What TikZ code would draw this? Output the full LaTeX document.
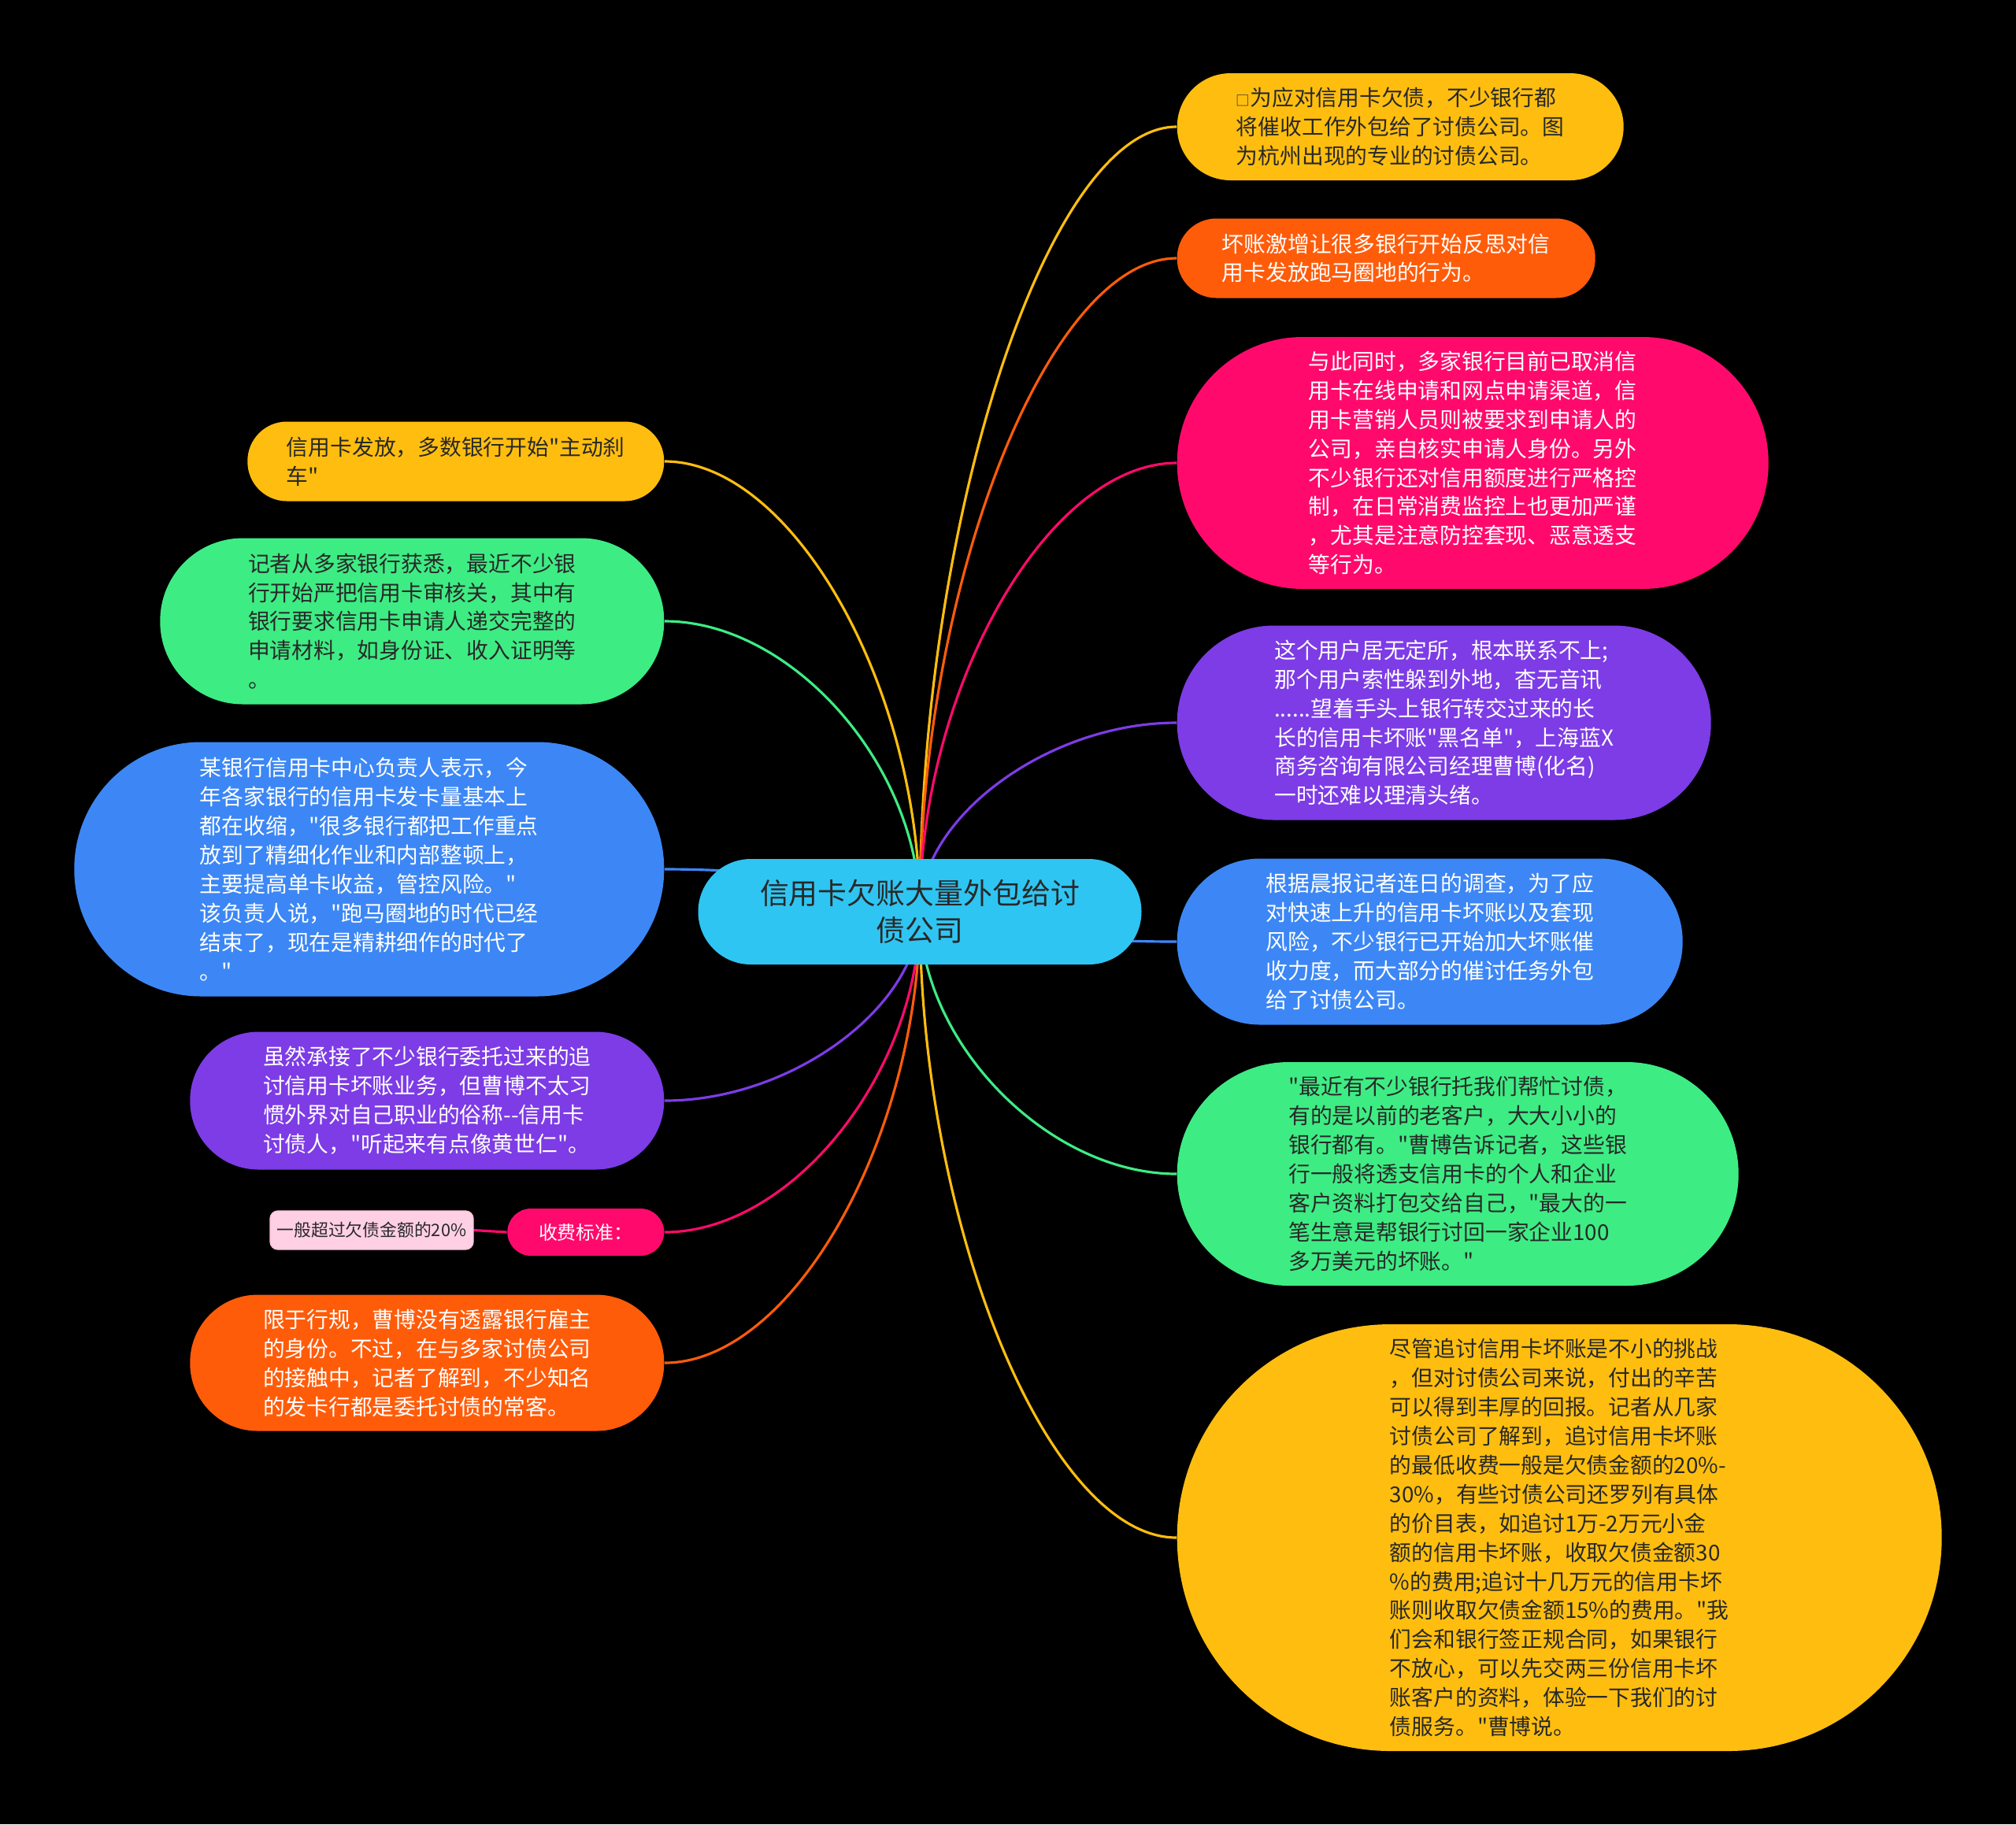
\documentclass[tikz,border=0pt]{standalone}
\usepackage{fontspec}
\setmainfont{Noto Sans CJK SC}[Ligatures=TeXOff]
\usepackage{tikz}
\usetikzlibrary{calc, backgrounds}
\definecolor{mapyellow}{RGB}{255,190,15}
\definecolor{maporange}{RGB}{255,92,10}
\definecolor{mappink}{RGB}{255,10,108}
\definecolor{mappurple}{RGB}{125,60,230}
\definecolor{mapblue}{RGB}{60,135,245}
\definecolor{mapgreen}{RGB}{62,236,132}
\definecolor{mapcyan}{RGB}{47,197,242}
\definecolor{maplight}{RGB}{255,208,228}
\definecolor{mapink}{RGB}{40,40,40}
\newcommand\bodyfont{\fontsize{7.9pt}{10.5pt}\selectfont}
\tikzset{
  pill/.style 2 args = {fill=#1, rounded corners=#2, inner sep=0pt,
                        align=left, text=white, font=\bodyfont},
  dark/.style        = {text=mapink},
  branch/.style      = {draw=#1, line width=0.9pt},
}

\begin{document}
\begin{tikzpicture}[
    rside/.style={anchor=west},
    lside/.style={anchor=east}
]
\useasboundingbox (0,0) rectangle (25.6,-23.17);
\begin{scope}[on background layer]
  \fill[black] (0,0) rectangle (25.6,-23.17);
\end{scope}

% centre
\node[pill={mapcyan}{0.67cm}, dark, align=center,
      font=\fontsize{10.5pt}{13.4pt}\selectfont,
      minimum width=5.63cm, minimum height=1.34cm] (root) at (11.68,-11.58)
  {信用卡欠账大量外包给讨\\债公司};

% right side
\node[pill={mapyellow}{0.68cm}, dark, rside, minimum width=5.67cm,
      minimum height=1.36cm] (r1) at (14.94,-1.61)
  {{\fontsize{5pt}{5pt}\selectfont □}为应对信用卡欠债，不少银行都\\
   将催收工作外包给了讨债公司。图\\
   为杭州出现的专业的讨债公司。};
\node[pill={maporange}{0.5cm}, rside, minimum width=5.31cm,
      minimum height=1.01cm] (r2) at (14.94,-3.28)
  {坏账激增让很多银行开始反思对信\\
   用卡发放跑马圈地的行为。};
\node[pill={mappink}{1.6cm}, rside, minimum width=7.51cm,
      minimum height=3.2cm] (r3) at (14.94,-5.88)
  {与此同时，多家银行目前已取消信\\
   用卡在线申请和网点申请渠道，信\\
   用卡营销人员则被要求到申请人的\\
   公司，亲自核实申请人身份。另外\\
   不少银行还对信用额度进行严格控\\
   制，在日常消费监控上也更加严谨\\
   ，尤其是注意防控套现、恶意透支\\
   等行为。};
\node[pill={mappurple}{1.23cm}, rside, minimum width=6.78cm,
      minimum height=2.47cm] (r4) at (14.94,-9.18)
  {这个用户居无定所，根本联系不上;\\
   那个用户索性躲到外地，杳无音讯\\
   ......望着手头上银行转交过来的长\\
   长的信用卡坏账"黑名单"，上海蓝X\\
   商务咨询有限公司经理曹博(化名)\\
   一时还难以理清头绪。};
\node[pill={mapblue}{1.05cm}, rside, minimum width=6.42cm,
      minimum height=2.11cm] (r5) at (14.94,-11.96)
  {根据晨报记者连日的调查，为了应\\
   对快速上升的信用卡坏账以及套现\\
   风险，不少银行已开始加大坏账催\\
   收力度，而大部分的催讨任务外包\\
   给了讨债公司。};
\node[pill={mapgreen}{1.42cm}, dark, rside, minimum width=7.13cm,
      minimum height=2.84cm] (r6) at (14.94,-14.91)
  {"最近有不少银行托我们帮忙讨债，\\
   有的是以前的老客户，大大小小的\\
   银行都有。"曹博告诉记者，这些银\\
   行一般将透支信用卡的个人和企业\\
   客户资料打包交给自己，"最大的一\\
   笔生意是帮银行讨回一家企业100\\
   多万美元的坏账。"};
\node[pill={mapyellow}{2.71cm}, dark, rside, minimum width=9.71cm,
      minimum height=5.42cm] (r7) at (14.94,-19.53)
  {尽管追讨信用卡坏账是不小的挑战\\
   ，但对讨债公司来说，付出的辛苦\\
   可以得到丰厚的回报。记者从几家\\
   讨债公司了解到，追讨信用卡坏账\\
   的最低收费一般是欠债金额的20\%-\\
   30\%，有些讨债公司还罗列有具体\\
   的价目表，如追讨1万-2万元小金\\
   额的信用卡坏账，收取欠债金额30\\
   \%的费用;追讨十几万元的信用卡坏\\
   账则收取欠债金额15\%的费用。"我\\
   们会和银行签正规合同，如果银行\\
   不放心，可以先交两三份信用卡坏\\
   账客户的资料，体验一下我们的讨\\
   债服务。"曹博说。};

% left side
\node[pill={mapyellow}{0.5cm}, dark, lside, minimum width=5.29cm,
      minimum height=1.01cm] (l1) at (8.44,-5.86)
  {信用卡发放，多数银行开始"主动刹\\
   车"};
\node[pill={mapgreen}{1.05cm}, dark, lside, minimum width=6.4cm,
      minimum height=2.11cm] (l2) at (8.44,-7.89)
  {记者从多家银行获悉，最近不少银\\
   行开始严把信用卡审核关，其中有\\
   银行要求信用卡申请人递交完整的\\
   申请材料，如身份证、收入证明等\\
   。};
\node[pill={mapblue}{1.61cm}, lside, minimum width=7.49cm,
      minimum height=3.23cm] (l3) at (8.44,-11.04)
  {某银行信用卡中心负责人表示，今\\
   年各家银行的信用卡发卡量基本上\\
   都在收缩，"很多银行都把工作重点\\
   放到了精细化作业和内部整顿上，\\
   主要提高单卡收益，管控风险。"\\
   该负责人说，"跑马圈地的时代已经\\
   结束了，现在是精耕细作的时代了\\
   。"};
\node[pill={mappurple}{0.87cm}, lside, minimum width=6.02cm,
      minimum height=1.75cm] (l4) at (8.44,-13.98)
  {虽然承接了不少银行委托过来的追\\
   讨信用卡坏账业务，但曹博不太习\\
   惯外界对自己职业的俗称-\kern0pt-信用卡\\
   讨债人，"听起来有点像黄世仁"。};
\node[pill={mappink}{0.3cm}, lside, font=\fontsize{6.8pt}{8pt}\selectfont,
      minimum width=1.99cm, minimum height=0.6cm] (l5) at (8.44,-15.65)
  {收费标准：};
\node[pill={maplight}{0.1cm}, dark, draw=mappink!25, line width=0.4pt,
      font=\fontsize{6.2pt}{7.5pt}\selectfont,
      minimum width=2.58cm, minimum height=0.49cm] (l5a) at (4.72,-15.625)
  {一般超过欠债金额的20\%};
\node[pill={maporange}{0.86cm}, lside, minimum width=6.02cm,
      minimum height=1.73cm] (l6) at (8.44,-17.31)
  {限于行规，曹博没有透露银行雇主\\
   的身份。不过，在与多家讨债公司\\
   的接触中，记者了解到，不少知名\\
   的发卡行都是委托讨债的常客。};

\begin{scope}[on background layer]
  \foreach \n/\a/\c in {r1/west/mapyellow, r2/west/maporange,
      r3/west/mappink, r4/west/mappurple, r5/west/mapblue,
      r6/west/mapgreen, r7/west/mapyellow, l1/east/mapyellow,
      l2/east/mapgreen, l3/east/mapblue, l4/east/mappurple,
      l5/east/mappink, l6/east/maporange} {
    \coordinate (m) at ($(root.center)!.5!(\n.\a)$);
    \draw[branch=\c] (root.center) .. controls (root.center |- m)
      and (m |- \n.\a) .. (\n.\a);
  }
  \draw[branch=mappink] (l5.west) -- (l5a.east);
\end{scope}

\end{tikzpicture}
\end{document}
